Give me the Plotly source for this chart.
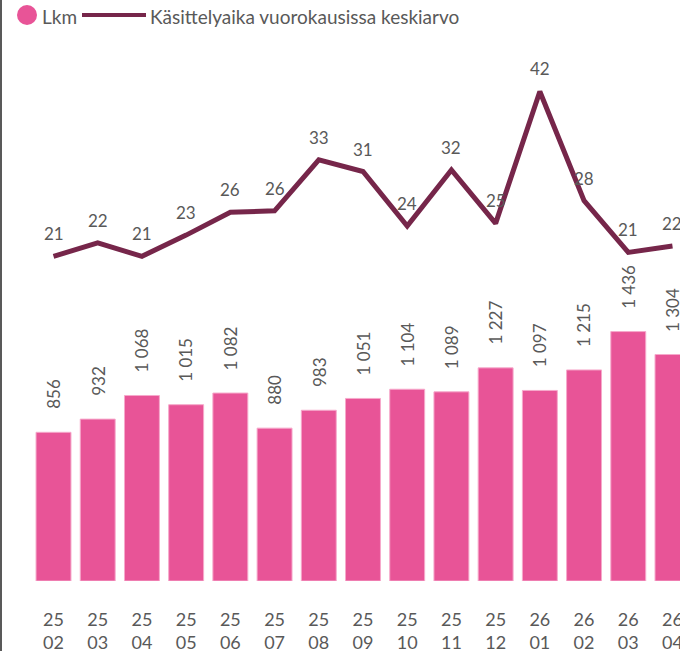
import plotly.graph_objects as go

# ---- data ----
months = ["25<br>02", "25<br>03", "25<br>04", "25<br>05", "25<br>06", "25<br>07", "25<br>08",
          "25<br>09", "25<br>10", "25<br>11", "25<br>12", "26<br>01", "26<br>02", "26<br>03", "26<br>04"]
lkm = [856, 932, 1068, 1015, 1082, 880, 983, 1051, 1104, 1089, 1227, 1097, 1215, 1436, 1304]
kasittelyaika = [20.6, 22.3, 20.6, 23.3, 26.2, 26.4, 32.9, 31.4, 24.45, 31.6, 24.8, 41.6, 27.7, 21.1, 21.9]

BAR_NAME = "Lkm"
LINE_NAME = "Käsittelyaika vuorokausissa keskiarvo"

# ---- style ----
W, H = 680, 651
ML, MR, MT, MB = 10, 0, 50, 70
PINK = "#E85497"
PINK_EDGE = "#F6A9CB"
WINE = "#76264A"
GRAY = "#595959"
FONT = "Lato, 'Open Sans', sans-serif"
FS = 17

plot_w = W - ML - MR
plot_h = H - MT - MB


def px_x(p):
    return (p - ML) / plot_w


def px_y(p):
    return (H - MB - p) / plot_h


fig = go.Figure()
fig.add_trace(go.Bar(
    x=months, y=lkm, name=BAR_NAME, marker=dict(color=PINK, line=dict(color=PINK_EDGE, width=1)),
    width=0.79, showlegend=False, yaxis="y"))
fig.add_trace(go.Scatter(
    x=months, y=kasittelyaika, name=LINE_NAME, mode="lines",
    line=dict(color=WINE, width=5), showlegend=False, yaxis="y2", cliponaxis=False))

annotations = []
for m, v in zip(months, lkm):
    annotations.append(dict(x=m, y=v, xref="x", yref="y", text=f"{v:,}".replace(",", " "),
                            textangle=-90, showarrow=False, yanchor="bottom", yshift=21,
                            font=dict(family=FONT, size=FS, color=GRAY)))
for m, v in zip(months, kasittelyaika):
    annotations.append(dict(x=m, y=v, xref="x", yref="y2", text=f"{v:.0f}",
                            showarrow=False, yanchor="bottom", yshift=10,
                            font=dict(family=FONT, size=FS, color=GRAY)))

# legend (manual)
annotations.append(dict(x=px_x(40), y=px_y(16), xref="paper", yref="paper", text=BAR_NAME,
                        showarrow=False, xanchor="left", yanchor="middle",
                        font=dict(family=FONT, size=19, color=GRAY)))
annotations.append(dict(x=px_x(148), y=px_y(16), xref="paper", yref="paper", text=LINE_NAME,
                        showarrow=False, xanchor="left", yanchor="middle",
                        font=dict(family=FONT, size=19, color=GRAY)))

shapes = [
    dict(type="circle", xref="paper", yref="paper", x0=px_x(17), x1=px_x(37), y0=px_y(25), y1=px_y(5),
         fillcolor=PINK, line=dict(width=0)),
    dict(type="line", xref="paper", yref="paper", x0=px_x(82), x1=px_x(146), y0=px_y(15), y1=px_y(15),
         line=dict(color=WINE, width=4)),
    dict(type="line", xref="paper", yref="paper", x0=px_x(1), x1=px_x(1), y0=px_y(651), y1=px_y(0),
         line=dict(color=GRAY, width=2)),
]

fig.update_layout(
    width=W, height=H,
    margin=dict(l=ML, r=MR, t=MT, b=MB, autoexpand=False),
    paper_bgcolor="white", plot_bgcolor="white",
    font=dict(family=FONT, size=FS, color=GRAY),
    bargap=0.2,
    xaxis=dict(type="category", range=[-0.984, 14.17], showgrid=False, zeroline=False, showline=False,
               ticks="outside", ticklen=22, tickcolor="rgba(0,0,0,0)", automargin=False,
               tickfont=dict(family=FONT, size=18, color=GRAY)),
    yaxis=dict(range=[0, 3057], visible=False),
    yaxis2=dict(range=[-20.76, 46.88], visible=False, overlaying="y"),
    annotations=annotations,
    shapes=shapes,
    showlegend=False,
)

fig.write_html("out.html", config={"displayModeBar": False},
               post_script="document.body.style.margin='0px';document.body.style.overflow='hidden';")
